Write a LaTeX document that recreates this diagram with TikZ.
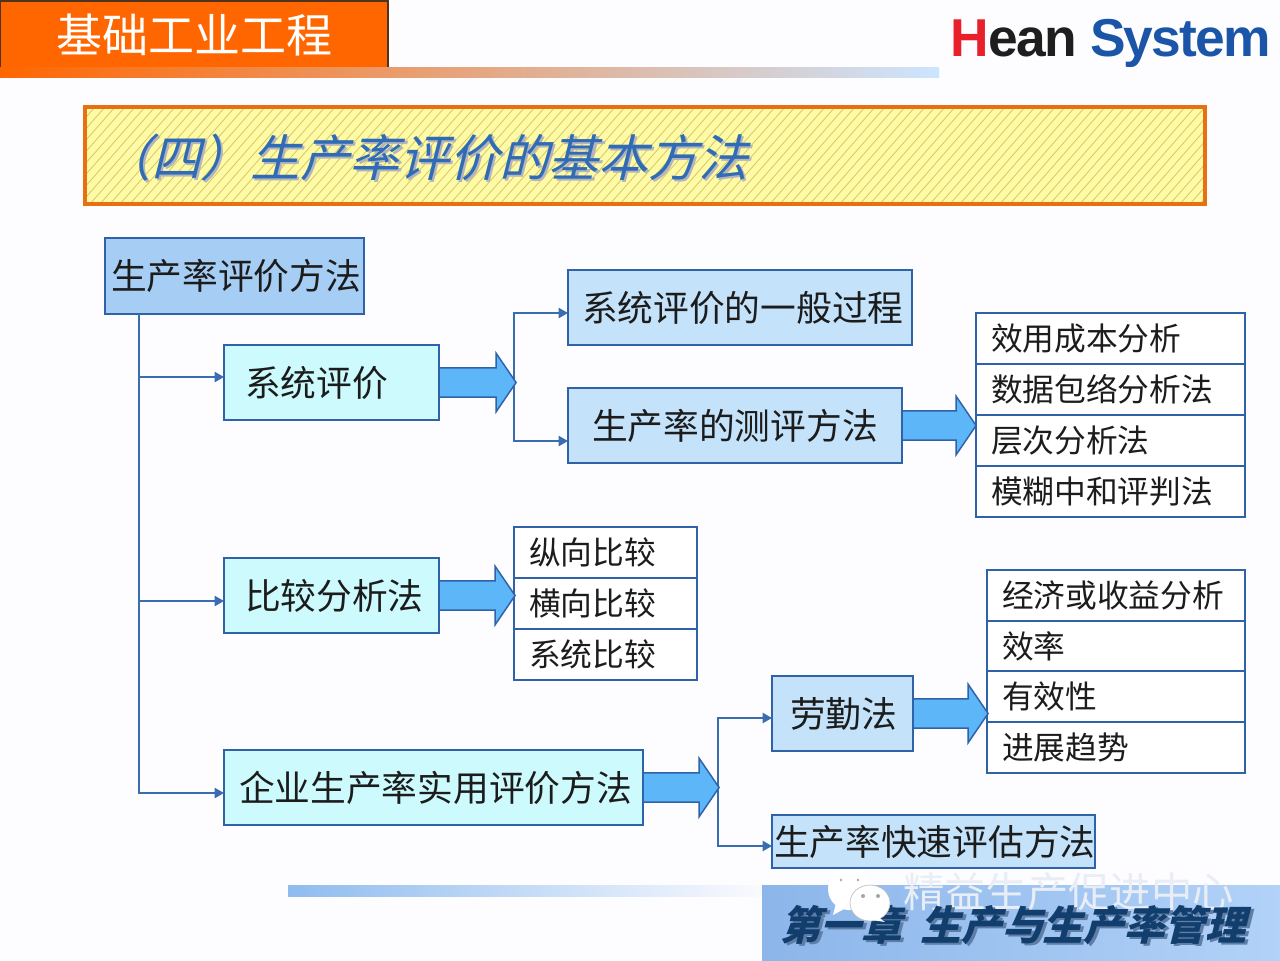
\documentclass[tikz,border=0pt]{standalone}
\usepackage{fontspec}
\setmainfont{Noto Sans CJK SC}
\newfontfamily\cjkit[FakeSlant=0.25]{Noto Sans CJK SC}
\newfontfamily\logofont[LetterSpace=-3.4]{Liberation Sans}
\usetikzlibrary{arrows.meta}
\definecolor{pagebg}{HTML}{FDFCFE}
\definecolor{edge}{HTML}{2F62A8}
\definecolor{linkc}{HTML}{3A6CB0}
\definecolor{cyanf}{HTML}{CDFBFD}
\definecolor{bluef}{HTML}{C4E3FA}
\definecolor{rootf}{HTML}{A6CEF5}
\definecolor{blockf}{HTML}{5CB6F7}
\definecolor{ink}{HTML}{1C1C1C}
\definecolor{orangeh}{HTML}{FF6600}
\definecolor{titleblue}{HTML}{306CB6}
\definecolor{titleshade}{HTML}{B4B4BC}
\definecolor{chapterblue}{HTML}{123E6E}
\definecolor{chaptershade}{HTML}{5E7EA6}
\newcommand{\bx}[8]{%
  \pgfmathsetmacro{\bw}{(#5-#3)*0.75}%
  \pgfmathsetmacro{\bh}{(#6-#4)*0.75}%
  \pgfmathsetmacro{\bi}{(#7-#3)*0.75}%
  \node[#1,minimum width=\bw pt,minimum height=\bh pt,text width=\bw pt] (#2)
    at ({(#3+#5)/2},{(#4+#6)/2}) {\hspace*{\bi pt}\raisebox{-1.2pt}{#8}};}
\newcommand{\blk}[2]{%
  \draw[blockarrow] ([yshift=11pt]#1.east) -- ++(#2*0.75pt,0) -- ++(0,11pt)
    -- ++(15pt,-22pt) -- ++(-15pt,-22pt) -- ++(0,11pt) -- ++(-#2*0.75pt,0);}
\newcommand{\shadowed}[4]{\rlap{\hspace*{#2}\raisebox{-#2}{\textcolor{#3}{#1}}}\textcolor{#4}{#1}}
\tikzset{
  box/.style={draw=edge,line width=1.6pt,inner xsep=0pt,inner ysep=0pt,align=left,text=ink,font=\fontsize{26.8pt}{30pt}\selectfont},
  cbox/.style={box,fill=cyanf},
  bbox/.style={box,fill=bluef},
  rbox/.style={box,fill=rootf},
  ibox/.style={box,fill=white,font=\fontsize{23.8pt}{28pt}\selectfont},
  link/.style={draw=linkc,line width=1.5pt,-{Triangle[length=7pt,width=7.5pt]}},
  blockarrow/.style={draw=edge,line width=1.1pt,fill=blockf},
  plain/.style={inner sep=0pt,anchor=base west}
}
\begin{document}
\begin{tikzpicture}[x=0.75pt,y=-0.75pt]
\useasboundingbox (0,0) rectangle (1280,960);
\fill[pagebg] (0,0) rectangle (1280,960);
% header
\shade[left color=orangeh,middle color={rgb,255:red,240;green,204;blue,190},right color={rgb,255:red,204;green,229;blue,255}] (0,67) rectangle (939,77);
\fill[orangeh] (0,0) rectangle (388,67);
\draw[line width=1.4pt,draw={rgb,255:red,80;green,50;blue,30}] (0.5,67) -- (0.5,0.7) -- (388,0.7) -- (388,67);
\node[plain,text=white,font=\fontsize{34.5pt}{40pt}\selectfont] (head) at (56,52) {基础工业工程};
\node[plain,font=\logofont\bfseries\fontsize{40pt}{44pt}\selectfont] (logo) at (950,56) {\textcolor[HTML]{E8202A}{H}\textcolor[HTML]{1E1E1E}{ean} \textcolor[HTML]{1A55A8}{System}};
% title band
\begin{scope}
\clip (85,107) rectangle (1205,204);
\fill[fill={rgb,255:red,255;green,250;blue,165}] (85,107) rectangle (1205,204);
\foreach \i in {0,10,...,1260}
  \draw[draw={rgb,255:red,214;green,200;blue,100},line width=.6pt] (\i,204) -- (\i+85,107);
\end{scope}
\draw[draw={rgb,255:red,232;green,112;blue,16},line width=2.4pt] (85,107) rectangle (1205,204);
\node[plain,font=\cjkit\fontsize{37.3pt}{42pt}\selectfont] (title) at (101,176) {\shadowed{（四）生产率评价的基本方法}{1.6pt}{titleshade}{titleblue}};
% footer
\shade[left color={rgb,255:red,143;green,188;blue,238},right color={rgb,255:red,250;green,250;blue,254}] (288,885) rectangle (762,896);
\shade[left color={rgb,255:red,140;green,182;blue,234},right color={rgb,255:red,178;green,210;blue,248}] (762,885) rectangle (1280,960);
\fill[white] (849,889) ellipse (21 and 21);
\fill[white] (836,903) -- (833,915) -- (846,908) -- cycle;
\fill[gray!70] (841,880) circle (1.3) (858,880) circle (1.3);
\node[plain,text={rgb,255:red,232;green,237;blue,246},font=\fontsize{31pt}{36pt}\selectfont] (mark) at (903,907) {精益生产促进中心};
\node[plain,font=\cjkit\bfseries\fontsize{30.5pt}{36pt}\selectfont] (chapter) at (780,940) {\shadowed{第一章\ \ 生产与生产率管理}{2.2pt}{chaptershade}{chapterblue}};
\fill[white,draw=gray!50,line width=.5pt] (870,903) ellipse (20 and 18);
\fill[white] (878,917) -- (885,922) -- (872,920) -- cycle;
\fill[gray!70] (863,896) circle (2) (878,896) circle (2);
% boxes
\bx{rbox}{root}{105}{238}{364}{314}{111}{生产率评价方法}
\bx{cbox}{sys}{224}{345}{439}{420}{245}{系统评价}
\bx{bbox}{gen}{568}{270}{912}{345}{582}{系统评价的一般过程}
\bx{bbox}{meas}{568}{388}{902}{463}{592}{生产率的测评方法}
\bx{cbox}{cmp}{224}{558}{439}{633}{245}{比较分析法}
\bx{cbox}{ent}{224}{750}{643}{825}{239}{企业生产率实用评价方法}
\bx{bbox}{lq}{772}{676}{913}{751}{790}{劳勤法}
\bx{bbox}{quick}{772}{815}{1095}{868}{774}{生产率快速评估方法}
\bx{ibox}{a1}{976}{313}{1245}{364}{991}{效用成本分析}
\bx{ibox}{a2}{976}{364}{1245}{415}{991}{数据包络分析法}
\bx{ibox}{a3}{976}{415}{1245}{466}{991}{层次分析法}
\bx{ibox}{a4}{976}{466}{1245}{517}{991}{模糊中和评判法}
\bx{ibox}{b1}{514}{527}{697}{578}{529}{纵向比较}
\bx{ibox}{b2}{514}{578}{697}{629}{529}{横向比较}
\bx{ibox}{b3}{514}{629}{697}{680}{529}{系统比较}
\bx{ibox}{c1}{987}{570}{1245}{621}{1002}{经济或收益分析}
\bx{ibox}{c2}{987}{621}{1245}{671}{1002}{效率}
\bx{ibox}{c3}{987}{671}{1245}{722}{1002}{有效性}
\bx{ibox}{c4}{987}{722}{1245}{773}{1002}{进展趋势}
% thin connectors
\coordinate (trunk) at (139,314);
\coordinate (sysin) at (224,377);
\coordinate (cmpin) at (224,601);
\coordinate (entin) at (224,793);
\draw[link] (trunk) |- (sysin);
\draw[link] (trunk) |- (cmpin);
\draw[link] (trunk) |- (entin);
\coordinate (forka) at (514,377);
\coordinate (genin) at (568,313);
\coordinate (measin) at (568,441);
\draw[link] (forka) |- (genin);
\draw[link] (forka) |- (measin);
\coordinate (forkb) at (718,782);
\coordinate (lqin) at (772,718);
\coordinate (quickin) at (772,846);
\draw[link] (forkb) |- (lqin);
\draw[link] (forkb) |- (quickin);
% block arrows
\blk{sys}{56}
\blk{meas}{53}
\blk{cmp}{55}
\blk{lq}{54}
\blk{ent}{55}
\end{tikzpicture}
\end{document}
